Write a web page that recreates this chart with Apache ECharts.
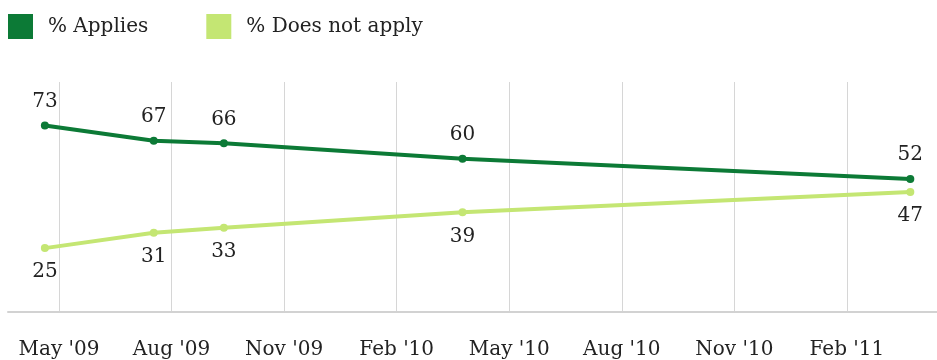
<!DOCTYPE html>
<html><head><meta charset="utf-8">
<script src="https://cdn.jsdelivr.net/npm/echarts@6/dist/echarts.min.js"></script>
<style>html,body{margin:0;padding:0;background:#fff}#c{width:937px;height:360px}</style>
</head><body><div id="c"></div>
<script>
// Survey dates (approximate) and values
const surveyDates = ['2009-04-20', '2009-07-17', '2009-09-13', '2010-03-24', '2011-03-22'];
const applies = [73, 67, 66, 60, 52];
const doesNotApply = [25, 31, 33, 39, 47];
// Tick labels: months from May 2009
const tickMonths = [0, 3, 6, 9, 12, 15, 18, 21];
const tickLabels = ["May '09", "Aug '09", "Nov '09", "Feb '10", "May '10", "Aug '10", "Nov '10", "Feb '11"];

function monthsFromMay09(s) {
  const [y, m, d] = s.split('-').map(Number);
  return (y - 2009) * 12 + (m - 5) + (d - 1) / 30.5;
}
const xs = surveyDates.map(monthsFromMay09);
const FONT = 'DejaVu Serif';
const DARK = '#0c7a36', LIGHT = '#c4e673';
const TXT = '#222';

const chart = echarts.init(document.getElementById('c'), null, {renderer: 'canvas'});
chart.setOption({
  animation: false,
  backgroundColor: '#fff',
  legend: {
    left: 8, top: 14, padding: 0, itemWidth: 25, itemHeight: 25, itemGap: 58,
    icon: 'rect',
    textStyle: {fontFamily: FONT, fontSize: 20, color: TXT, padding: [0, 0, 0, 10]},
    data: ['% Applies', '% Does not apply']
  },
  grid: {left: 8, right: 0, top: 82, bottom: 48},
  xAxis: {
    type: 'value', min: -1.36, max: 23.4,
    axisLine: {show: true, lineStyle: {color: '#d2d2d2', width: 2}},
    axisTick: {show: false, customValues: tickMonths},
    axisLabel: {customValues: tickMonths, margin: 28, fontFamily: FONT, fontSize: 20, color: TXT,
      formatter: v => { const i = tickMonths.indexOf(Math.round(v)); return i >= 0 ? tickLabels[i] : ''; }},
    splitLine: {show: true, lineStyle: {color: '#d6d6d6', width: 1}}
  },
  yAxis: {type: 'value', min: 0, max: 90, show: false, splitLine: {show: false}},
  series: [
    {
      name: '% Applies', type: 'line', color: DARK,
      data: xs.map((x, i) => [x, applies[i]]),
      symbol: 'circle', symbolSize: 8, lineStyle: {width: 4, color: DARK}, itemStyle: {color: DARK},
      label: {show: true, position: 'top', distance: 10, fontFamily: FONT, fontSize: 20, color: TXT}
    },
    {
      name: '% Does not apply', type: 'line', color: LIGHT,
      data: xs.map((x, i) => [x, doesNotApply[i]]),
      symbol: 'circle', symbolSize: 8, lineStyle: {width: 4, color: LIGHT}, itemStyle: {color: LIGHT},
      label: {show: true, position: 'bottom', distance: 10, fontFamily: FONT, fontSize: 20, color: TXT}
    }
  ]
});
</script></body></html>
